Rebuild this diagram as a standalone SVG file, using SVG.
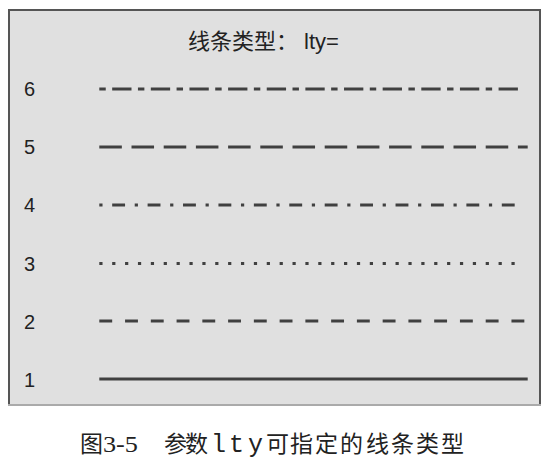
<svg xmlns="http://www.w3.org/2000/svg" width="550" height="466" viewBox="0 0 550 466">
<style>
.lab{font-family:"Liberation Sans",Arial,sans-serif;font-size:20px;fill:#222}
.ln{stroke:#404040;stroke-width:3.2;fill:none;stroke-linecap:butt}
.cap{font-family:"Liberation Serif","Noto Sans CJK SC",serif;font-size:23px;fill:#222}
</style>
<rect width="550" height="466" fill="#ffffff"/>
<g id="panel">
<rect x="9" y="10" width="531" height="395" fill="#e0e0e0"/>
<path d="M9,405 V10 H540 V405" fill="none" stroke="#555" stroke-width="2"/>
<line x1="8" y1="405" x2="541" y2="405" stroke="#aaa" stroke-width="2"/>
</g>
<g id="title">
<text x="188" y="49" style="font-family:'Noto Sans CJK SC','Noto Sans',sans-serif;font-size:22px;fill:#222">线条类型：</text>
<text x="304" y="49" style="font-family:'Liberation Sans',Arial,sans-serif;font-size:22px;fill:#222">lty=</text>
</g>
<g id="labels">
<text class="lab" x="24" y="96">6</text>
<text class="lab" x="24" y="154">5</text>
<text class="lab" x="24" y="212">4</text>
<text class="lab" x="24" y="271">3</text>
<text class="lab" x="24" y="329">2</text>
<text class="lab" x="24" y="387">1</text>
</g>
<g id="connectors">
<line class="ln" x1="99.3" y1="89" x2="518.7" y2="89" stroke-dasharray="6.44 6.44 19.32 6.44"/>
<line class="ln" x1="99.3" y1="147" x2="527.7" y2="147" stroke-dasharray="22.54 9.66"/>
<line class="ln" x1="99.3" y1="205" x2="515.7" y2="205" stroke-dasharray="3.22 9.66 12.88 9.66"/>
<line class="ln" x1="99.3" y1="263.5" x2="515.3" y2="263.5" stroke-dasharray="3.22 9.66"/>
<line class="ln" x1="99.3" y1="321" x2="525.7" y2="321" stroke-dasharray="12.88 12.88"/>
<line class="ln" x1="99.3" y1="379" x2="527.7" y2="379"/>
</g>
<g id="caption">
<text class="cap" x="80" y="452">图</text>
<text class="cap" x="103" y="452" textLength="35" lengthAdjust="spacingAndGlyphs">3-5</text>
<text class="cap" x="164" y="452">参</text>
<text class="cap" x="185" y="452">数</text>
<text x="211 229 248" y="452" style="font-family:'Liberation Mono','Courier New',monospace;font-size:25px;fill:#222">lty</text>
<text class="cap" x="266 290 315 340 366 391 416 441" y="452">可指定的线条类型</text>
</g>
</svg>
